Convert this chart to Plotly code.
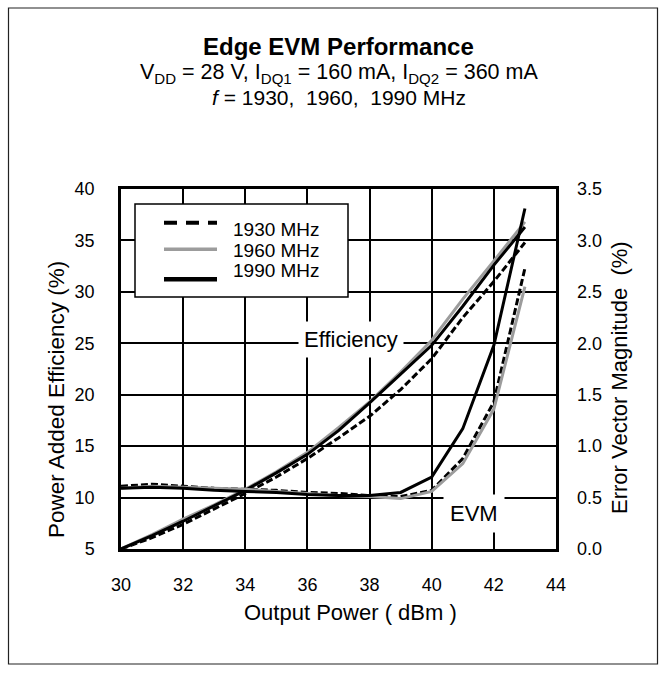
import plotly.graph_objects as go

# ---------------- data ----------------
power = [30, 31, 32, 33, 34, 35, 36, 37, 38, 39, 40, 41, 42, 43]

pae_1930 = [5.0, 6.1, 7.4, 8.9, 10.4, 12.0, 13.8, 15.8, 17.9, 20.5, 23.5, 27.5, 31.0, 34.8]
pae_1960 = [5.0, 6.4, 7.9, 9.3, 10.8, 12.5, 14.4, 16.8, 19.3, 22.2, 25.3, 29.3, 33.0, 36.8]
pae_1990 = [5.0, 6.3, 7.7, 9.2, 10.7, 12.4, 14.2, 16.5, 19.2, 22.0, 24.8, 28.6, 32.6, 36.3]

evm_1930 = [0.61, 0.63, 0.61, 0.59, 0.58, 0.57, 0.55, 0.54, 0.52, 0.51, 0.57, 0.88, 1.43, 2.73]
evm_1960 = [0.59, 0.61, 0.60, 0.59, 0.58, 0.56, 0.54, 0.52, 0.51, 0.49, 0.56, 0.83, 1.36, 2.55]
evm_1990 = [0.59, 0.60, 0.59, 0.57, 0.56, 0.55, 0.53, 0.52, 0.52, 0.55, 0.70, 1.17, 1.98, 3.31]

series_names = ["1930 MHz", "1960 MHz", "1990 MHz"]
series_colors = ["#000000", "#9c9c9c", "#000000"]
series_dash = ["7px,3px", "solid", "solid"]
legend_dash = ["13px,9px", "solid", "solid"]
legend_widths = [4, 3.5, 4.5]

x_ticks = [30, 32, 34, 36, 38, 40, 42, 44]
y_ticks = [5, 10, 15, 20, 25, 30, 35, 40]
y2_ticks = [0.0, 0.5, 1.0, 1.5, 2.0, 2.5, 3.0, 3.5]

title_text = "<b>Edge EVM Performance</b>"
sub1_text = "V<sub>DD</sub> = 28 V, I<sub>DQ1</sub> = 160 mA, I<sub>DQ2</sub> = 360 mA"
sub2_text = "<i>f</i> = 1930,  1960,  1990 MHz"

# ---------------- layout geometry ----------------
W, H = 665, 675
L, R, T, B = 121, 109, 189, 126
PW, PH = W - L - R, H - T - B
FONT = "Liberation Sans, Arial, sans-serif"


def px(x):
    return (x - L) / PW


def py(y):
    return (H - B - y) / PH


fig = go.Figure()

pae_series = [pae_1930, pae_1960, pae_1990]
evm_series = [evm_1930, evm_1960, evm_1990]

for name, color, dash, pae in zip(series_names, series_colors, series_dash, pae_series):
    fig.add_trace(go.Scatter(x=power, y=pae, mode="lines", name=name + " PAE",
                             line=dict(color=color, width=3, dash=dash),
                             showlegend=False, yaxis="y"))
for name, color, dash, evm in zip(series_names, series_colors, series_dash, evm_series):
    fig.add_trace(go.Scatter(x=power, y=evm, mode="lines", name=name + " EVM",
                             line=dict(color=color, width=3, dash=dash),
                             showlegend=False, yaxis="y2"))

axis_common = dict(showgrid=True, gridcolor="black", gridwidth=2,
                   showline=True, linecolor="black", linewidth=2.5,
                   zeroline=False, ticks="", tickfont=dict(size=18, color="black", family=FONT))

fig.update_layout(
    width=W, height=H,
    margin=dict(l=L, r=R, t=T, b=B),
    paper_bgcolor="white", plot_bgcolor="white",
    font=dict(family=FONT, color="black"),
    xaxis=dict(range=[30, 44], tickvals=x_ticks, mirror=True, ticklabelstandoff=18, **axis_common),
    yaxis=dict(range=[5, 40], tickvals=y_ticks, mirror=True, ticklabelstandoff=20, **axis_common),
    yaxis2=dict(range=[0, 3.5], tickvals=y2_ticks, tickformat=".1f", overlaying="y", side="right",
                showgrid=False, showline=False, zeroline=False, ticks="", ticklabelstandoff=20,
                tickfont=dict(size=18, color="black", family=FONT)),
    showlegend=False,
)

shapes = []
annotations = []

# outer frame
shapes.append(dict(type="rect", xref="paper", yref="paper",
                   x0=px(8.5), x1=px(657.5), y0=py(664), y1=py(8),
                   line=dict(color="#222222", width=1.2), fillcolor="rgba(0,0,0,0)", layer="below"))

# legend box
shapes.append(dict(type="rect", xref="paper", yref="paper",
                   x0=px(135), x1=px(348), y0=py(297), y1=py(204),
                   line=dict(color="black", width=1.5), fillcolor="white", layer="above"))
sample_y = [222.7, 249.3, 279.3]
text_y = [229, 250, 270]
for i, name in enumerate(series_names):
    shapes.append(dict(type="line", xref="paper", yref="paper",
                       x0=px(164), x1=px(217), y0=py(sample_y[i]), y1=py(sample_y[i]),
                       line=dict(color=series_colors[i], width=legend_widths[i], dash=legend_dash[i]),
                       layer="above"))
    annotations.append(dict(text=name, xref="paper", yref="paper", x=px(231), y=py(text_y[i]),
                            xanchor="left", yanchor="middle", showarrow=False,
                            font=dict(size=19, family=FONT, color="black")))

# titles
annotations += [
    dict(text=title_text, xref="paper", yref="paper", x=0.5, y=py(46), xanchor="center",
         yanchor="middle", showarrow=False, font=dict(size=24, family=FONT, color="black")),
    dict(text=sub1_text, xref="paper", yref="paper", x=0.5, y=py(73), xanchor="center",
         yanchor="middle", showarrow=False, font=dict(size=21.5, family=FONT, color="black")),
    dict(text=sub2_text, xref="paper", yref="paper", x=0.5, y=py(97.5), xanchor="center",
         yanchor="middle", showarrow=False, font=dict(size=21, family=FONT, color="black")),
    # axis titles
    dict(text="Output Power ( dBm )", xref="paper", yref="paper", x=px(350), y=py(612),
         xanchor="center", yanchor="middle", showarrow=False,
         font=dict(size=22, family=FONT, color="black")),
    dict(text="Power Added Efficiency (%)", xref="paper", yref="paper", x=px(56), y=py(400),
         xanchor="center", yanchor="middle", textangle=-90, showarrow=False,
         font=dict(size=22.5, family=FONT, color="black")),
    dict(text="Error Vector Magnitude  (%)", xref="paper", yref="paper", x=px(619), y=py(378),
         xanchor="center", yanchor="middle", textangle=-90, showarrow=False,
         font=dict(size=22, family=FONT, color="black")),
    # in-plot labels
    dict(text="Efficiency", xref="x", yref="y", x=37.4, y=25.4, xanchor="center",
         yanchor="middle", showarrow=False, bgcolor="white", borderpad=5,
         font=dict(size=22, family=FONT, color="black")),
    dict(text="EVM", xref="x", yref="y", x=41.37, y=8.5, xanchor="center",
         yanchor="middle", showarrow=False, bgcolor="white", borderpad=6,
         font=dict(size=22, family=FONT, color="black")),
]

fig.update_layout(shapes=shapes, annotations=annotations)
fig.write_html("out.html")
